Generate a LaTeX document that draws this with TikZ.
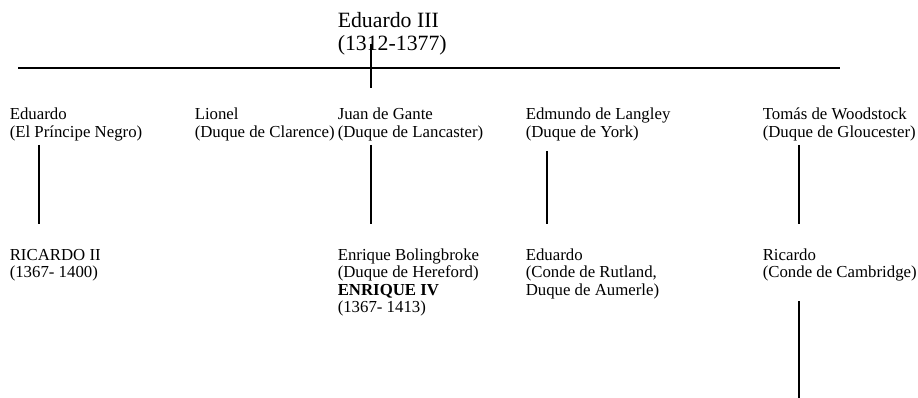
\documentclass[tikz,border=0pt]{standalone}
\usepackage{fontspec}
\setmainfont{Liberation Serif}

\begin{document}
\begin{tikzpicture}[x=1pt,y=-1pt]
        \tikzstyle{every path}=[line width=1.5pt]
        \tikzstyle{persona} = [anchor=base west, inner sep=0pt, align=left, font=\fontsize{16.8}{17.5}\selectfont]
        \useasboundingbox (0,0) rectangle (918,398);
        % rey (la base es la ultima linea)
        \node[persona, font=\fontsize{21.8}{23.5}\selectfont](eduardoIII) at (337,51){Eduardo III\\(1312-1377)};
        % hijos
        \node[persona](eduardo) at (9,137.5){Eduardo\\(El Príncipe Negro)};
        \node[persona](lionel) at (194,137.5){Lionel\\(Duque de Clarence)};
        \node[persona](juan) at (337,137.5){Juan de Gante\\(Duque de Lancaster)};
        \node[persona](edmundo) at (525,137.5){Edmundo de Langley\\(Duque de York)};
        \node[persona](tomas) at (762,137.5){Tomás de Woodstock\\(Duque de Gloucester)};
        % nietos
        \node[persona](ricardoII) at (9,277.5){RICARDO II\\(1367- 1400)};
        \node[persona](enrique) at (337,312.5){Enrique Bolingbroke\\(Duque de Hereford)\\\textbf{ENRIQUE IV}\\(1367- 1413)};
        \node[persona](rutland) at (525,295){Eduardo\\(Conde de Rutland,\\Duque de Aumerle)};
        \node[persona](cambridge) at (762,277.5){Ricardo\\(Conde de Cambridge)};
        % lineas
        \coordinate (barraIzq) at (18,68);
        \coordinate (barraDer) at (840,68);
        \coordinate (reyArriba) at (371,44);
        \coordinate (reyAbajo) at (371,88);
        \coordinate (eduardoAbajo) at (39,145);
        \coordinate (ricardoIIArriba) at (39,224);
        \coordinate (juanAbajo) at (371,145);
        \coordinate (enriqueArriba) at (371,224);
        \coordinate (edmundoAbajo) at (547,151);
        \coordinate (rutlandArriba) at (547,224);
        \coordinate (tomasAbajo) at (799,145);
        \coordinate (cambridgeArriba) at (799,224);
        \coordinate (cambridgeAbajo) at (799,301);
        \coordinate (finRama) at (799,398);
        \draw (barraIzq) -- (barraDer);
        \draw (reyArriba) -- (reyAbajo);
        \draw (eduardoAbajo) -- (ricardoIIArriba);
        \draw (juanAbajo) -- (enriqueArriba);
        \draw (edmundoAbajo) -- (rutlandArriba);
        \draw (tomasAbajo) -- (cambridgeArriba);
        \draw (cambridgeAbajo) -- (finRama);
    \end{tikzpicture}
\end{document}
